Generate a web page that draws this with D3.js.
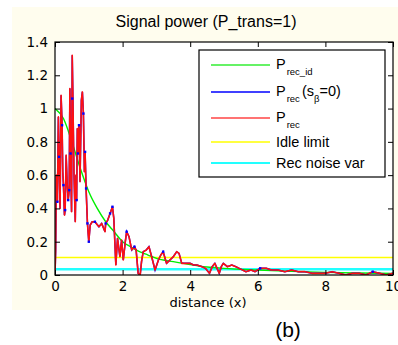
<!DOCTYPE html>
<html><head><meta charset="utf-8">
<script src="https://cdn.jsdelivr.net/npm/d3@7"></script>
<style>html,body{margin:0;padding:0;background:#fff;}svg{display:block;}</style>
</head><body>
<script>
// ---- data ----
const xTicks = [0, 2, 4, 6, 8, 10];
const yTicks = [0, 0.2, 0.4, 0.6, 0.8, 1, 1.2, 1.4];
const titleText = "Signal power (P_trans=1)";
const xLabel = "distance (x)";
const panelLabel = "(b)";

// P_rec_id (ideal received power)
const idealX = [0, 0.25, 0.5, 0.75, 1, 1.25, 1.5, 1.75, 2, 2.25, 2.5, 2.75, 3, 3.5, 4, 4.5, 5, 6, 7, 8, 9, 10];
const idealY = [1, 0.94, 0.80, 0.64, 0.5, 0.40, 0.32, 0.26, 0.2, 0.168, 0.14, 0.12, 0.10, 0.08, 0.062, 0.048, 0.04, 0.03, 0.022, 0.016, 0.012, 0.01];

// P_rec (received power)
const recX = [0.00,0.02,0.04,0.07,0.10,0.12,0.15,0.18,0.21,0.23,0.25,0.28,0.30,0.33,0.36,0.39,0.42,0.44,0.46,0.49,0.51,0.53,0.56,0.60,0.62,0.64,0.66,0.68,0.71,0.74,0.78,0.81,0.84,0.87,0.89,0.92,0.96,1.00,1.04,1.10,1.18,1.30,1.38,1.48,1.50,1.56,1.63,1.70,1.74,1.80,1.85,1.92,1.97,2.02,2.08,2.12,2.19,2.27,2.35,2.40,2.46,2.52,2.56,2.61,2.70,2.78,2.86,2.96,3.06,3.13,3.20,3.30,3.40,3.50,3.60,3.67,3.75,3.90,4.00,4.10,4.20,4.35,4.45,4.57,4.65,4.73,4.86,4.92,4.98,5.10,5.23,5.35,5.45,5.65,5.80,5.92,6.07,6.25,6.40,6.60,6.80,7.00,7.20,7.40,7.60,7.80,8.00,8.20,8.40,8.60,8.80,9.00,9.20,9.40,9.60,9.80,10.0];
const recY = [0.00,0.15,0.60,0.44,0.95,0.71,0.40,1.08,0.90,0.62,0.54,0.36,0.39,0.72,0.55,0.45,0.51,1.12,0.73,0.38,1.32,1.06,0.62,0.32,0.60,0.45,0.88,0.73,0.90,0.56,1.05,1.10,0.97,0.62,0.74,0.52,0.31,0.20,0.30,0.32,0.32,0.29,0.31,0.26,0.31,0.33,0.37,0.41,0.34,0.06,0.22,0.11,0.21,0.09,0.20,0.26,0.23,0.15,0.17,0.15,0.01,0.00,0.08,0.14,0.15,0.17,0.11,0.03,0.09,0.12,0.14,0.07,0.09,0.11,0.14,0.13,0.07,0.07,0.07,0.06,0.06,0.05,0.04,0.01,0.05,0.07,0.01,0.05,0.07,0.05,0.06,0.05,0.04,0.02,0.03,0.02,0.04,0.04,0.03,0.03,0.02,0.03,0.02,0.02,0.01,0.01,0.01,0.02,0.01,0.00,0.01,0.01,0.00,0.02,0.01,0.00,0.01];

// P_rec (s_beta = 0): visible vertices
const recS0X = [0.07,0.12,0.21,0.25,0.30,0.39,0.42,0.46,0.51,0.64,0.68,0.71,0.84,0.89,0.92,0.96,1.00,1.18,1.50,1.63,1.70,2.12,2.35,3.20,6.07,9.40];
const recS0Y = [0.44,0.71,0.90,0.54,0.39,0.45,0.51,0.73,1.06,0.45,0.73,0.90,0.97,0.74,0.52,0.31,0.20,0.32,0.31,0.37,0.41,0.26,0.17,0.14,0.04,0.02];

const idleLimit = 0.105;
const recNoiseVar = 0.034;

const legendLabels = ["P_rec_id", "P_rec (s_β=0)", "P_rec", "Idle limit", "Rec noise var"];

// ---- drawing ----
const W = 398, H = 345;
const svg = d3.select("body").append("svg").attr("width", W).attr("height", H);

svg.append("rect").attr("x", 12).attr("y", 7).attr("width", W - 12).attr("height", 303).attr("fill", "#fffdee");

const x = d3.scaleLinear().domain([0, 10]).range([55, 393]);
const y = d3.scaleLinear().domain([0, 1.4]).range([275, 42]);

svg.append("rect").attr("x", x(0)).attr("y", y(1.4)).attr("width", x(10) - x(0)).attr("height", y(0) - y(1.4)).attr("fill", "#fff");

svg.append("clipPath").attr("id", "clip").append("rect")
  .attr("x", x(0)).attr("y", y(1.4)).attr("width", x(10) - x(0)).attr("height", y(0) - y(1.4));
const plot = svg.append("g").attr("clip-path", "url(#clip)");

const line = d3.line().x(d => x(d[0])).y(d => y(d[1]));

// reference lines
plot.append("path").datum([[0, idleLimit], [10, idleLimit]]).attr("d", line).attr("stroke", "#ffff00").attr("stroke-width", 1.5).attr("fill", "none");
plot.append("path").datum([[0, recNoiseVar], [10, recNoiseVar]]).attr("d", line).attr("stroke", "#22ffff").attr("stroke-width", 2.5).attr("fill", "none");

const idealData = idealX.map((v, i) => [v, idealY[i]]);
const recData = recX.map((v, i) => [v, recY[i]]);
const s0Data = recS0X.map((v, i) => [v, recS0Y[i]]);

plot.append("path").datum(idealData).attr("d", d3.line().x(d => x(d[0])).y(d => y(d[1])).curve(d3.curveMonotoneX))
  .attr("stroke", "#00ee00").attr("stroke-width", 1.4).attr("fill", "none");
plot.append("path").datum(recData).attr("d", line).attr("stroke", "#0000ff").attr("stroke-width", 1.5).attr("fill", "none");
plot.append("path").datum(recData).attr("d", line).attr("stroke", "#ff1010").attr("stroke-width", 1.6).attr("fill", "none").attr("stroke-linejoin", "round");
plot.selectAll("rect.s0").data(s0Data).join("rect").attr("class", "s0")
  .attr("x", d => x(d[0]) - 1.2).attr("y", d => y(d[1]) - 1.2).attr("width", 2.4).attr("height", 2.4).attr("fill", "#0000ff");

// axes
const tickFont = "DejaVu Sans";
function styleAxis(g, labels) {
  g.selectAll("path.domain").remove();
  g.selectAll("line").attr("stroke", "#000");
  g.selectAll("text").attr("font-family", tickFont).attr("font-size", "13.5px").attr("fill", "#000");
  if (!labels) g.selectAll("text").remove();
}
svg.append("g").attr("transform", `translate(0,${y(0)})`)
  .call(d3.axisBottom(x).tickValues(xTicks).tickFormat(d3.format("d")).tickSize(-5).tickPadding(6.5))
  .call(g => styleAxis(g, true));
svg.append("g").attr("transform", `translate(0,${y(1.4)})`)
  .call(d3.axisTop(x).tickValues(xTicks).tickSize(-5))
  .call(g => styleAxis(g, false));
svg.append("g").attr("transform", `translate(${x(0)},0)`)
  .call(d3.axisLeft(y).tickValues(yTicks).tickFormat(d => String(+d.toFixed(1))).tickSize(-5).tickPadding(7))
  .call(g => styleAxis(g, true));
svg.append("g").attr("transform", `translate(${x(10)},0)`)
  .call(d3.axisRight(y).tickValues(yTicks).tickSize(-5))
  .call(g => styleAxis(g, false));

svg.append("rect").attr("x", x(0)).attr("y", y(1.4)).attr("width", x(10) - x(0)).attr("height", y(0) - y(1.4))
  .attr("fill", "none").attr("stroke", "#000").attr("stroke-width", 1.2);

// title & labels
svg.append("text").attr("x", 206).attr("y", 27).attr("text-anchor", "middle")
  .attr("font-family", "Liberation Sans, Arial, sans-serif").attr("font-size", "16px").text(titleText);
svg.append("text").attr("x", 208).attr("y", 307).attr("text-anchor", "middle")
  .attr("font-family", tickFont).attr("font-size", "13px").text(xLabel);
svg.append("text").attr("x", 288).attr("y", 337).attr("text-anchor", "middle")
  .attr("font-family", "Liberation Sans, Arial, sans-serif").attr("font-size", "21px").text(panelLabel);

// legend
const lg = svg.append("g");
lg.append("rect").attr("x", 199).attr("y", 50).attr("width", 186).attr("height", 127)
  .attr("fill", "#fff").attr("stroke", "#000").attr("stroke-width", 1.2);
const legColors = ["#33ee33", "#0000ff", "#ff4444", "#ffff00", "#22ffff"];
const legLineY = [65, 92, 118, 142, 163];
const legWidths = [1.6, 1.6, 1.6, 1.5, 2];
legLineY.forEach((ly, i) => {
  lg.append("line").attr("x1", 211).attr("x2", 270).attr("y1", ly).attr("y2", ly)
    .attr("stroke", legColors[i]).attr("stroke-width", legWidths[i]);
});
const lf = "Liberation Sans, Arial, sans-serif";
function legText(yb) {
  return lg.append("text").attr("x", 276).attr("y", yb).attr("font-family", lf).attr("font-size", "14.5px").attr("fill", "#000");
}
// row 1
let t = legText(69);
t.append("tspan").text("P");
t.append("tspan").attr("font-size", "9.5px").attr("dy", 6).attr("dx", 1).text(legendLabels[0].slice(2));
// row 2
t = legText(96);
t.append("tspan").text("P");
t.append("tspan").attr("font-size", "9.5px").attr("dy", 6).attr("dx", 1).text("rec");
t.append("tspan").attr("dy", -6).attr("dx", 2).text("(s");
t.append("tspan").attr("font-size", "9.5px").attr("dy", 6).text("β");
t.append("tspan").attr("dy", -6).text("=0)");
// row 3
t = legText(122);
t.append("tspan").text("P");
t.append("tspan").attr("font-size", "9.5px").attr("dy", 6).attr("dx", 1).text("rec");
// rows 4, 5
legText(147).text(legendLabels[3]);
legText(168).text(legendLabels[4]);
</script>
</body></html>
